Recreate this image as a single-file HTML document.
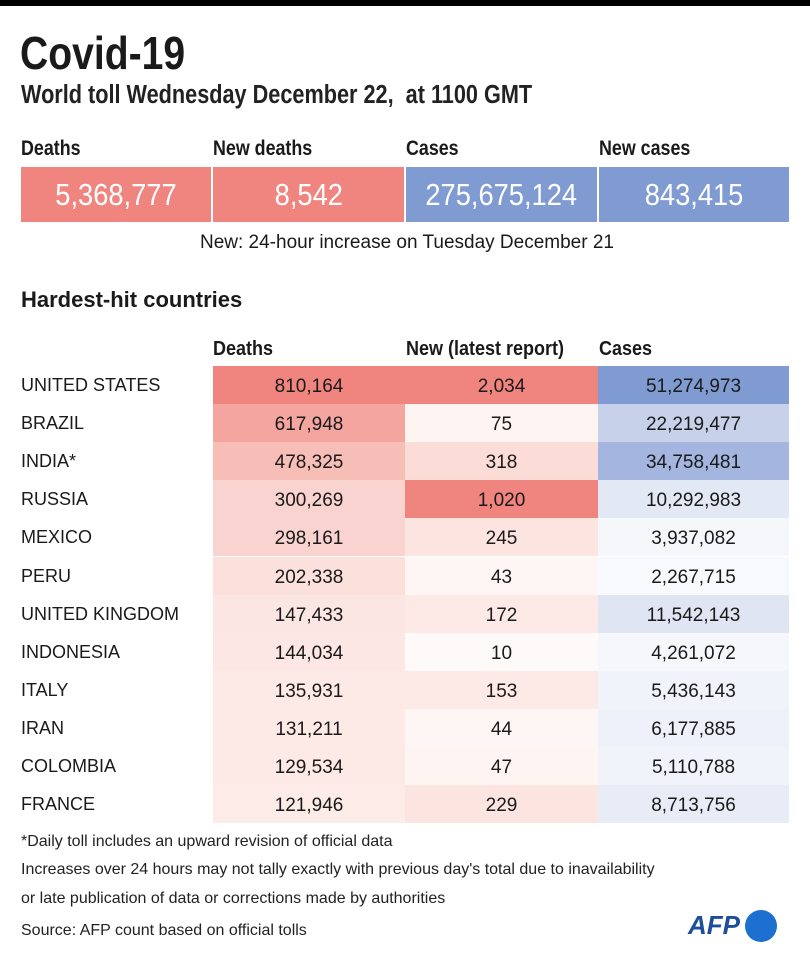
<!DOCTYPE html>
<html><head><meta charset="utf-8"><style>
body{margin:0;width:810px;height:953px;background:#fff;font-family:"Liberation Sans",sans-serif;color:#1a1a1a;position:relative;overflow:hidden}
.a{position:absolute;white-space:nowrap}
.n{transform-origin:left top;transform:scaleX(0.85)}
.box{position:absolute;top:167px;height:55px;color:#fff;font-size:31px;text-align:center;line-height:55px}
.box span{display:inline-block;transform:scaleX(0.88)}
.c{position:absolute;height:38px;text-align:center;line-height:42px;font-size:19px;box-sizing:border-box}
.lab{position:absolute;left:21px;font-size:18px;line-height:38px}
.ft{position:absolute;left:21px;font-size:16px;color:#222}
</style></head><body>
<div class="a" style="left:0;top:0;width:810px;height:6px;background:#000"></div>
<div class="a n" style="left:20px;top:26px;font-size:46px;font-weight:bold">Covid-19</div>
<div class="a n" style="left:21px;top:81px;font-size:25.5px;font-weight:bold;color:#222">World toll Wednesday December 22,&nbsp; at 1100 GMT</div>
<div class="a n" style="left:21px;top:137px;font-size:21px;font-weight:bold">Deaths</div>
<div class="a n" style="left:213px;top:137px;font-size:21px;font-weight:bold">New deaths</div>
<div class="a n" style="left:406px;top:137px;font-size:21px;font-weight:bold">Cases</div>
<div class="a n" style="left:599px;top:137px;font-size:21px;font-weight:bold">New cases</div>
<div class="box" style="left:21px;width:190px;background:#f08580"><span>5,368,777</span></div>
<div class="box" style="left:213px;width:191px;background:#f08580"><span>8,542</span></div>
<div class="box" style="left:406px;width:191px;background:#7f9bd1"><span>275,675,124</span></div>
<div class="box" style="left:599px;width:190px;background:#7f9bd1"><span>843,415</span></div>
<div class="a" style="left:0;width:814px;top:232px;text-align:center;font-size:19px">New: 24-hour increase on Tuesday December 21</div>
<div class="a" style="left:21px;top:287px;font-size:22px;font-weight:bold">Hardest-hit countries</div>
<div class="a" style="left:213px;top:338px;font-size:20px;font-weight:bold;transform:scaleX(0.9);transform-origin:left top">Deaths</div>
<div class="a" style="left:406px;top:338px;font-size:20px;font-weight:bold;transform:scaleX(0.9);transform-origin:left top">New (latest report)</div>
<div class="a" style="left:599px;top:338px;font-size:20px;font-weight:bold;transform:scaleX(0.9);transform-origin:left top">Cases</div>
<div id="t"></div>
<div class="ft" style="top:833px">*Daily toll includes an upward revision of official data</div>
<div class="ft" style="top:861px">Increases over 24 hours may not tally exactly with previous day's total due to inavailability</div>
<div class="ft" style="top:890px">or late publication of data or corrections made by authorities</div>
<div class="ft" style="top:922px">Source: AFP count based on official tolls</div>
<div class="a" style="left:688px;top:910px;font-size:26px;font-weight:bold;font-style:italic;color:#1d4d9c">AFP</div>
<div class="a" style="left:745px;top:910px;width:32px;height:32px;border-radius:50%;background:#1d6fd0"></div>
<script>
var r=[["UNITED STATES","810,164","2,034","51,274,973","#f08580","#f08580","#7f9bd1"],
["BRAZIL","617,948","75","22,219,477","#f4a59f","#fef5f3","#c7d1ea"],
["INDIA*","478,325","318","34,758,481","#f7bdb7","#fbdcd7","#a4b6e0"],
["RUSSIA","300,269","1,020","10,292,983","#f9d3cf","#f08580","#e3e8f5"],
["MEXICO","298,161","245","3,937,082","#f9d3cf","#fce5e1","#f5f7fb"],
["PERU","202,338","43","2,267,715","#fbe0dc","#fef6f4","#f8f9fc"],
["UNITED KINGDOM","147,433","172","11,542,143","#fce6e3","#fde9e6","#dfe5f3"],
["INDONESIA","144,034","10","4,261,072","#fce7e4","#fefafa","#f5f7fb"],
["ITALY","135,931","153","5,436,143","#fdeae7","#fdeae7","#f1f3fa"],
["IRAN","131,211","44","6,177,885","#fdeae7","#fef6f4","#eef1f9"],
["COLOMBIA","129,534","47","5,110,788","#fdeae7","#fef5f3","#f1f3fa"],
["FRANCE","121,946","229","8,713,756","#fdebe8","#fce5e1","#e8ecf6"]];
var h="";r.forEach(function(d,i){var y=366+i*38.1;
h+='<div class="lab" style="top:'+y+'px">'+d[0]+'</div>';
h+='<div class="c" style="left:213px;width:192px;top:'+y+'px;background:'+d[4]+'">'+d[1]+'</div>';
h+='<div class="c" style="left:405px;width:193px;top:'+y+'px;background:'+d[5]+'">'+d[2]+'</div>';
h+='<div class="c" style="left:598px;width:191px;top:'+y+'px;background:'+d[6]+'">'+d[3]+'</div>';});
document.getElementById("t").innerHTML=h;
</script>
</body></html>
